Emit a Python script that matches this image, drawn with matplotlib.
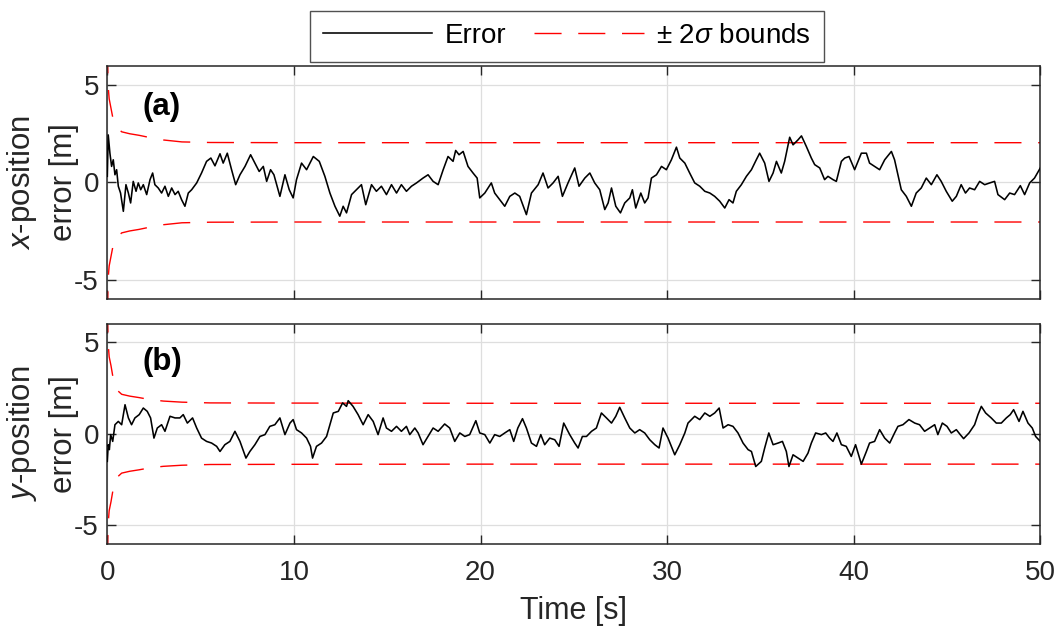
import matplotlib
matplotlib.use("Agg")
import matplotlib.pyplot as plt

plt.rcParams['font.family'] = ['Liberation Sans', 'DejaVu Sans']
plt.rcParams['mathtext.fontset'] = 'custom'
plt.rcParams['mathtext.rm'] = 'Liberation Sans'
plt.rcParams['mathtext.it'] = 'Liberation Sans:italic'
plt.rcParams['axes.unicode_minus'] = False

# ---- x-position error (panel a) ----
t_a = [0, 0.05, 0.14, 0.23, 0.32, 0.41, 0.5, 0.59, 0.71, 0.86, 1.0, 1.13, 1.25, 1.39, 1.54, 1.66,
       1.79, 1.93, 2.11, 2.29, 2.43, 2.55, 2.73, 2.91, 3.09, 3.27, 3.45, 3.63, 3.80, 3.98, 4.16,
       4.34, 4.52, 4.79, 5.05, 5.32, 5.55, 5.77, 6.04, 6.21, 6.43, 6.66, 6.88, 7.11, 7.38, 7.68,
       7.91, 8.14, 8.36, 8.54, 8.75, 8.93, 9.25, 9.52, 9.75, 9.96, 10.14, 10.41, 10.68, 11.04,
       11.36, 11.66, 11.93, 12.20, 12.46, 12.64, 12.82, 13.09, 13.35, 13.62, 13.85, 14.16, 14.42,
       14.69, 14.96, 15.23, 15.5, 15.76, 16.03, 16.30, 16.57, 16.92, 17.19, 17.46, 17.73, 18.0,
       18.26, 18.53, 18.67, 18.85, 19.07, 19.33, 19.6, 19.82, 19.96, 20.23, 20.58, 20.76, 21.03,
       21.30, 21.57, 21.84, 22.1, 22.46, 22.73, 23.09, 23.35, 23.62, 23.89, 24.16, 24.39, 24.69,
       25.05, 25.28, 25.59, 25.86, 26.12, 26.39, 26.66, 26.84, 27.02, 27.25, 27.5, 27.73, 28.0,
       28.14, 28.32, 28.59, 28.8, 28.98, 29.16, 29.43, 29.7, 29.96, 30.23, 30.5, 30.68, 30.95,
       31.21, 31.48, 31.75, 32.02, 32.29, 32.55, 32.82, 33.09, 33.32, 33.53, 33.71, 33.98, 34.25,
       34.52, 34.78, 34.96, 35.23, 35.46, 35.68, 35.86, 36.12, 36.3, 36.57, 36.75, 37.02, 37.2,
       37.46, 37.73, 37.91, 38.18, 38.44, 38.62, 38.89, 39.07, 39.34, 39.52, 39.75, 40.05, 40.41,
       40.68, 40.85, 41.12, 41.39, 41.66, 42.02, 42.19, 42.37, 42.55, 42.82, 43.09, 43.35, 43.62,
       43.89, 44.16, 44.46, 44.69, 44.96, 45.28, 45.5, 45.76, 45.99, 46.21, 46.48, 46.75, 47.02,
       47.29, 47.55, 47.73, 48.09, 48.36, 48.62, 48.93, 49.16, 49.43, 49.69, 50.0]
err_a = [0.31, 2.44, 1.50, 0.82, 1.16, 0.39, 0.65, -0.2, -0.55, -1.49, -0.12, -0.55, -1.06, 0.05,
         -0.46, -0.03, -0.38, -0.12, -0.63, 0.14, 0.48, -0.12, -0.29, -0.55, -0.2, -0.72, -0.29,
         -0.63, -0.46, -0.89, -1.23, -0.55, -0.38, -0.03, 0.48, 1.08, 1.25, 0.85, 1.47, 0.99, 1.50,
         0.65, -0.12, 0.39, 0.82, 1.42, 0.99, 0.56, 0.82, 0.05, 0.65, 0.39, -0.72, 0.39, -0.38,
         -0.80, 0.14, 0.99, 0.65, 1.33, 1.08, 0.31, -0.55, -1.23, -1.74, -1.23, -1.57, -0.63,
         -0.38, -0.12, -1.15, -0.12, -0.46, -0.2, -0.63, -0.12, -0.55, -0.12, -0.46, -0.2, -0.03,
         0.22, 0.39, 0.05, -0.12, 0.65, 1.33, 1.08, 1.64, 1.42, 1.59, 0.82, 0.48, 0.22, -0.80,
         -0.55, -0.03, -0.55, -0.89, -1.23, -0.72, -0.55, -0.72, -1.66, -0.55, -0.12, 0.48, -0.29,
         -0.03, 0.31, -0.72, -0.03, 0.74, -0.2, 0.22, 0.48, -0.03, -0.38, -1.40, -1.06, -0.29,
         -1.23, -1.57, -1.06, -0.80, -0.38, -1.32, -0.55, -1.06, -0.80, 0.22, 0.39, 0.82, 0.65,
         1.16, 1.81, 1.25, 0.99, 0.48, -0.03, -0.2, -0.46, -0.55, -0.72, -0.97, -1.32, -0.89,
         -1.06, -0.46, -0.12, 0.31, 0.65, 1.16, 1.50, 0.99, 0.05, 0.48, 1.08, 0.48, 1.08, 2.32,
         1.93, 2.19, 2.39, 1.85, 1.25, 0.91, 0.74, 0.14, 0.31, 0.14, 0.05, 1.08, 1.25, 1.33, 0.65,
         1.50, 1.50, 0.99, 0.82, 0.65, 1.16, 1.59, 1.16, 0.39, -0.38, -0.72, -1.23, -0.55, -0.29,
         0.22, -0.12, 0.39, 0.05, -0.46, -0.97, -0.72, -0.12, -0.55, -0.29, -0.38, 0.05, -0.12,
         -0.03, 0.05, -0.63, -0.89, -0.55, -0.63, -0.17, -0.63, -0.03, 0.22, 0.74]

# ---- y-position error (panel b) ----
t_b = [0, 0.05, 0.11, 0.18, 0.29, 0.41, 0.59, 0.77, 0.95, 1.13, 1.30, 1.48, 1.71, 1.93, 2.14,
       2.32, 2.5, 2.68, 2.91, 3.09, 3.36, 3.63, 3.89, 4.07, 4.29, 4.57, 4.79, 5.05, 5.32, 5.59,
       5.86, 6.04, 6.3, 6.57, 6.84, 7.11, 7.43, 7.64, 7.91, 8.18, 8.45, 8.71, 8.98, 9.25, 9.52,
       9.79, 9.96, 10.14, 10.41, 10.68, 10.89, 11.0, 11.21, 11.48, 11.75, 11.93, 12.11, 12.38,
       12.61, 12.82, 12.91, 13.17, 13.44, 13.71, 13.98, 14.25, 14.51, 14.78, 14.96, 15.23, 15.5,
       15.76, 16.03, 16.21, 16.48, 16.66, 16.92, 17.19, 17.46, 17.73, 18.08, 18.35, 18.62, 18.89,
       19.16, 19.42, 19.75, 19.96, 20.23, 20.5, 20.76, 21.03, 21.3, 21.57, 21.78, 22.0, 22.25,
       22.46, 22.73, 23.0, 23.23, 23.44, 23.71, 23.98, 24.21, 24.46, 24.78, 25.05, 25.23, 25.46,
       25.68, 25.95, 26.21, 26.48, 26.75, 27.02, 27.25, 27.46, 27.73, 28.0, 28.27, 28.53, 28.8,
       29.07, 29.34, 29.57, 29.78, 30.05, 30.41, 30.68, 30.95, 31.12, 31.48, 31.75, 32.02, 32.29,
       32.55, 32.79, 33.0, 33.27, 33.53, 33.8, 34.07, 34.34, 34.52, 34.75, 35.05, 35.23, 35.45,
       35.68, 35.95, 36.18, 36.39, 36.53, 36.75, 37.02, 37.29, 37.55, 37.73, 37.96, 38.27, 38.5,
       38.71, 38.89, 39.1, 39.34, 39.6, 39.87, 40.1, 40.41, 40.68, 40.85, 41.12, 41.39, 41.66,
       41.93, 42.19, 42.37, 42.64, 42.96, 43.27, 43.53, 43.8, 44.07, 44.34, 44.51, 44.75, 45.0,
       45.23, 45.5, 45.71, 45.89, 46.18, 46.48, 46.66, 46.84, 47.07, 47.37, 47.64, 47.91, 48.18,
       48.39, 48.57, 48.86, 49.07, 49.34, 49.57, 49.75, 50.0]
err_b = [-1.51, -0.6, -0.87, -0.05, -0.42, 0.49, 0.67, 0.49, 1.58, 0.86, 0.49, 0.86, 1.04, 1.40,
         1.22, 0.86, -0.24, 0.31, 0.49, 0.13, 0.95, 0.86, 0.86, 1.04, 0.58, 0.86, 0.31, -0.24,
         -0.42, -0.51, -0.69, -0.97, -0.6, -0.42, 0.13, -0.42, -1.33, -0.97, -0.6, -0.15, -0.05,
         0.4, 0.49, 0.86, -0.05, 0.58, 0.77, 0.22, 0.04, -0.24, -0.69, -1.33, -0.69, -0.51, -0.15,
         0.49, 1.13, 1.22, 1.68, 1.49, 1.80, 1.49, 1.04, 0.49, 1.04, 0.67, -0.05, 0.86, 0.31, 0.13,
         0.4, 0.13, 0.4, -0.05, 0.31, 0.04, -0.6, -0.15, 0.31, 0.13, 0.53, 0.31, -0.42, 0.04,
         -0.15, -0.05, 0.71, 0.04, -0.05, -0.51, -0.05, -0.15, 0.04, 0.22, -0.42, 0.31, 0.82, 0.31,
         -0.51, -0.69, -0.05, -0.6, -0.24, -0.33, -0.69, 0.58, -0.05, -0.51, -0.78, -0.15, -0.15,
         0.13, 0.31, 1.13, 0.86, 0.58, 0.95, 1.44, 0.86, 0.31, 0.04, 0.22, 0.04, -0.33, -0.6,
         -0.78, 0.31, -0.24, -1.15, -0.6, 0.04, 0.58, 0.95, 0.77, 1.13, 0.95, 1.13, 1.40, 0.31,
         0.49, 0.4, 0.04, -0.51, -0.87, -0.97, -1.79, -1.51, -0.78, 0.04, -0.6, -0.51, -0.42,
         -0.97, -1.79, -1.15, -1.33, -1.51, -1.06, -0.51, 0.04, -0.05, 0.04, -0.24, -0.42, 0.04,
         -0.6, -0.69, -1.24, -0.6, -1.66, -0.97, -0.51, -0.42, 0.22, -0.24, -0.51, 0.04, 0.4, 0.49,
         0.77, 0.58, 0.49, 0.13, 0.31, 0.49, -0.05, 0.58, 0.4, 0.04, 0.22, -0.05, -0.27, 0.04,
         0.49, 1.04, 1.49, 1.13, 0.86, 0.58, 0.58, 0.86, 1.04, 1.31, 0.67, 1.22, 0.58, 0.31,
         -0.15, -0.42]

# ---- 2-sigma envelopes ----
t_bound = [0, 0.04, 0.1, 0.2, 0.3, 0.5, 0.77, 1.2, 1.7, 2.3, 3.0, 4.0, 5.5, 10, 20, 50]
bound_a = [7.0, 5.0, 4.3, 3.8, 3.3, 2.85, 2.6, 2.5, 2.42, 2.3, 2.18, 2.08, 2.05, 2.04, 2.04, 2.04]
bound_b = [7.0, 5.0, 4.2, 3.7, 3.1, 2.4, 2.15, 2.05, 1.97, 1.86, 1.78, 1.72, 1.68, 1.67, 1.66, 1.66]

x_ticks = [0, 10, 20, 30, 40, 50]
y_ticks = [-5, 0, 5]

W, H = 1058, 629
fig = plt.figure(figsize=(W / 100, H / 100), dpi=100)
ax_a = fig.add_axes([107.3 / W, 1 - 299 / H, 933 / W, 233.3 / H])
ax_b = fig.add_axes([107.3 / W, 1 - 543.7 / H, 933 / W, 220 / H])

dark = '#262626'
dash = (0, (19.5, 12.0))

def draw(ax, t, err, bound, tag, ylabel):
    ax.plot(t, err, color='black', lw=1.15, zorder=3)
    ax.plot(t_bound, bound, color='#ff0000', lw=1.0, linestyle=dash, zorder=2)
    ax.plot(t_bound, [-b for b in bound], color='#ff0000', lw=1.0, linestyle=dash, zorder=2)
    ax.set_xlim(0, 50)
    ax.set_ylim(-6, 6)
    ax.set_xticks(x_ticks)
    ax.set_yticks(y_ticks)
    ax.grid(True, color='#dedede', lw=0.9)
    ax.set_axisbelow(True)
    ax.tick_params(direction='in', length=6.7, width=1.0, colors=dark, labelsize=20,
                   top=True, right=True)
    ax.tick_params(axis='x', pad=11.5)
    ax.tick_params(axis='y', pad=6)
    for s in ax.spines.values():
        s.set_color(dark)
        s.set_linewidth(1.1)
    ax.text(0.038, 0.825, tag, transform=ax.transAxes, fontsize=22.5, fontweight='bold',
            ha='left', va='center', color='black')
    ax.set_ylabel(ylabel, fontsize=22.5, color=dark, linespacing=1.45)
    ax.yaxis.set_label_coords(-0.030, 0.5)

draw(ax_a, t_a, err_a, bound_a, '(a)', '$\\mathit{x}$-position\nerror [m]')
draw(ax_b, t_b, err_b, bound_b, '(b)', '$\\mathit{y}$-position\nerror [m]')
ax_a.tick_params(labelbottom=False)
ax_b.set_xlabel('Time [s]', fontsize=22, color=dark)
ax_b.xaxis.set_label_coords(0.5, -0.238)

handles = ax_a.get_lines()[:2]
leg = fig.legend(handles, ['Error', '± 2$\\mathit{\\sigma}$ bounds'], ncol=2,
                 loc='center', bbox_to_anchor=(567 / W, 1 - 36 / H), fontsize=20,
                 frameon=True, fancybox=False, edgecolor=dark, handlelength=3.95,
                 handletextpad=0.45, columnspacing=1.0, borderpad=0.45)
leg.get_frame().set_linewidth(1.0)
for txt in leg.get_texts():
    txt.set_color('black')

fig.savefig('out.png', dpi=100)
